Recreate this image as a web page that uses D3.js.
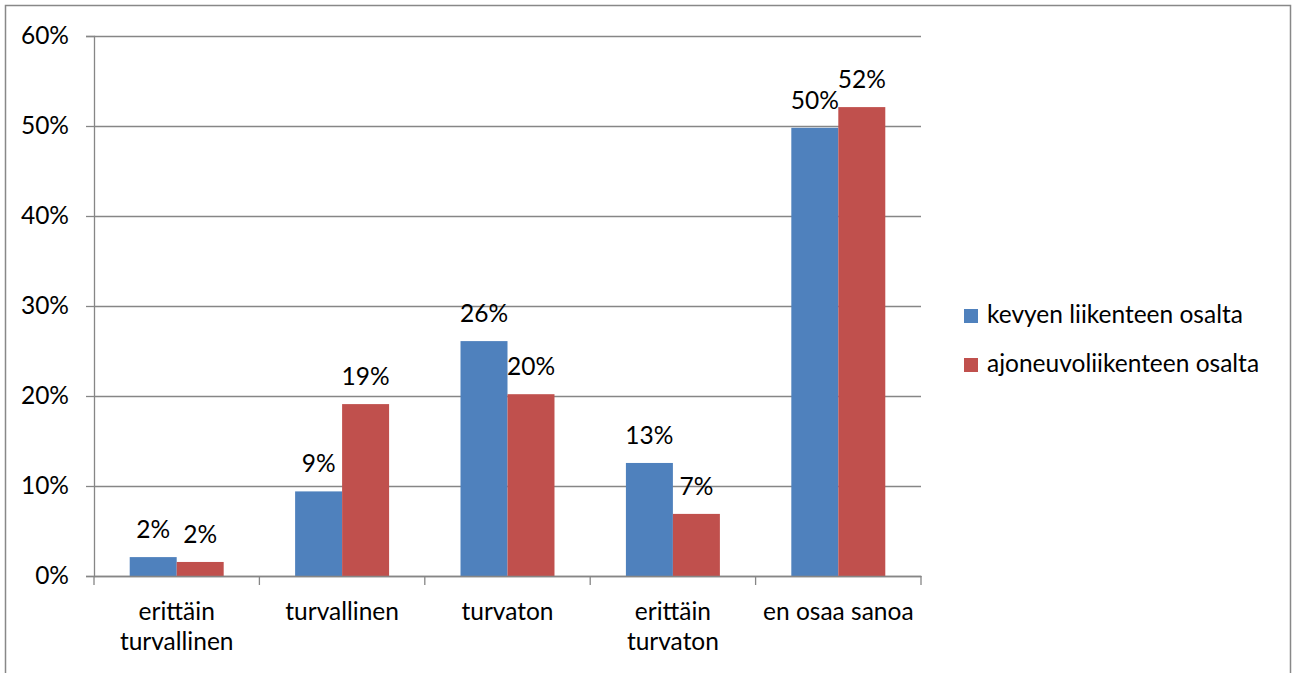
<!DOCTYPE html>
<html lang="fi">
<head>
    <meta charset="UTF-8">
    <title>turvallisuus</title>
    <script src="https://cdn.jsdelivr.net/npm/d3@7/dist/d3.min.js"></script>
    <style>
        body { margin: 0; background: #fff; }
        text { font-family: Lato, "Open Sans", sans-serif; fill: #000; }
    </style>
</head>
<body>
<svg width="1292" height="673" id="main"></svg>
<script>

    const categories = [["erittäin", "turvallinen"], ["turvallinen"], ["turvaton"], ["erittäin", "turvaton"], ["en osaa sanoa"]];
    const series = ["kevyen liikenteen osalta", "ajoneuvoliikenteen osalta"];
    const kevyt = [0.021, 0.094, 0.261, 0.1256, 0.498];
    const ajoneuvo = [0.0156, 0.191, 0.202, 0.069, 0.521];
    const yTicks = [0, 0.1, 0.2, 0.3, 0.4, 0.5, 0.6];
    const colors = ["#4F81BD", "#C0504D"];

    draw();

    function draw() {
        let svg = d3.select('#main');
        let margin = ({top: 36, left: 94, right: 921, bottom: 576});
        let fontSize = 24.5;
        let grid = "#868686";

        let keys = categories.map((c, i) => i);
        let x0 = d3.scaleBand().domain(keys).range([margin.left, margin.right]);
        let x1 = d3.scaleBand().domain([0, 1]).range([0, x0.bandwidth()]).paddingOuter(0.76);
        let y = d3.scaleLinear().domain([0, 0.6]).range([margin.bottom, margin.top]);
        let pct = d3.format(".0%");

        // chart border (open at the bottom)
        svg.append("path")
            .attr("d", "M5.5,673 V5.5 H1290.5 V673")
            .attr("fill", "none")
            .attr("stroke", "#888")
            .attr("stroke-width", 1.5);

        // gridlines + y axis
        let yAxis = g => g
            .attr("transform", `translate(${margin.left},0)`)
            .call(d3.axisLeft(y).tickValues(yTicks).tickFormat(pct)
                .tickSize(8).tickPadding(17))
            .call(g => g.selectAll(".tick line").clone()
                .attr("x2", margin.right - margin.left))
            .call(g => g.selectAll("line, .domain").attr("stroke", grid).attr("stroke-width", 1.3))
            .call(g => g.selectAll("text").attr("font-size", fontSize)
                .attr("font-family", null).attr("fill", "#000"));
        svg.append("g").call(yAxis);

        // bars
        let rows = keys.map(i => [kevyt[i], ajoneuvo[i]]);
        let groups = svg.append("g")
            .selectAll("g")
            .data(rows)
            .join("g")
            .attr("transform", (d, i) => `translate(${x0(i)},0)`);

        groups.selectAll("rect")
            .data(d => d)
            .join("rect")
            .attr("x", (d, j) => x1(j))
            .attr("width", x1.bandwidth())
            .attr("y", d => y(d))
            .attr("height", d => y(0) - y(d))
            .attr("fill", (d, j) => colors[j]);

        groups.selectAll("text")
            .data(d => d)
            .join("text")
            .attr("x", (d, j) => x1(j) + x1.bandwidth() / 2)
            .attr("y", d => y(d) - 19)
            .attr("text-anchor", "middle")
            .attr("font-size", fontSize)
            .text(d => pct(d));

        // x axis
        let xAxis = g => g
            .attr("transform", `translate(0,${margin.bottom})`)
            .call(d3.axisBottom(x0).tickSize(0).tickFormat(""))
            .call(g => g.selectAll(".domain").attr("stroke", grid).attr("stroke-width", 1.3));
        let xg = svg.append("g").call(xAxis);

        let edges = keys.map(i => x0(i)).concat([margin.right]);
        xg.selectAll(".edge")
            .data(edges)
            .join("line")
            .attr("class", "edge")
            .attr("x1", d => d).attr("x2", d => d)
            .attr("y1", 0).attr("y2", 9)
            .attr("stroke", grid).attr("stroke-width", 1.3);

        xg.selectAll(".cat")
            .data(categories)
            .join("text")
            .attr("class", "cat")
            .attr("text-anchor", "middle")
            .attr("font-size", fontSize)
            .attr("transform", (d, i) => `translate(${x0(i) + x0.bandwidth() / 2},44)`)
            .selectAll("tspan")
            .data(d => d)
            .join("tspan")
            .attr("x", 0)
            .attr("y", (d, k) => k * 30)
            .text(d => d);

        // legend
        let legend = svg.append("g")
            .selectAll("g")
            .data(series)
            .join("g")
            .attr("transform", (d, i) => `translate(964,${309 + i * 49})`);
        legend.append("rect")
            .attr("width", 14).attr("height", 14)
            .attr("fill", (d, i) => colors[i]);
        legend.append("text")
            .attr("x", 23).attr("y", 14)
            .attr("font-size", fontSize)
            .text(d => d);
    }
</script>
</body>
</html>
